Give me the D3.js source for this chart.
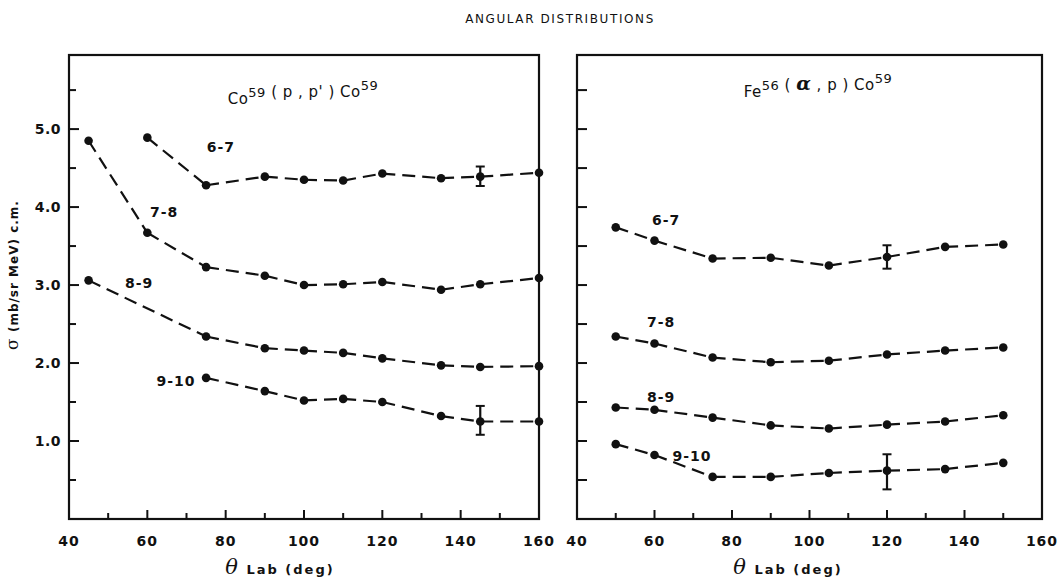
<!DOCTYPE html>
<html>
<head>
<meta charset="utf-8">
<script src="https://cdn.jsdelivr.net/npm/d3@7"></script>
<style>
  html, body { margin: 0; padding: 0; background: #fff; }
  svg { display: block; }
  text { font-family: "DejaVu Sans", "Liberation Sans", Arial, sans-serif; fill: #111; }
</style>
</head>
<body>
<svg id="chart" width="1060" height="584"></svg>
<script>
// ---------- DATA ----------
const chartTitle = "ANGULAR DISTRIBUTIONS";
const xTickValues = [40, 60, 80, 100, 120, 140, 160];
const yTickLabels = ["1.0", "2.0", "3.0", "4.0", "5.0"];
const seriesNames = ["6-7", "7-8", "8-9", "9-10"];

// Left panel: Co59 (p,p') Co59
const left67Angle = [60, 75, 90, 100, 110, 120, 135, 145, 160];
const left67Sigma = [4.89, 4.28, 4.39, 4.35, 4.34, 4.43, 4.37, 4.39, 4.44];
const left78Angle = [45, 60, 75, 90, 100, 110, 120, 135, 145, 160];
const left78Sigma = [4.85, 3.67, 3.23, 3.12, 3.00, 3.01, 3.04, 2.94, 3.01, 3.09];
const left89Angle = [45, 75, 90, 100, 110, 120, 135, 145, 160];
const left89Sigma = [3.06, 2.34, 2.19, 2.16, 2.13, 2.06, 1.97, 1.95, 1.96];
const left910Angle = [75, 90, 100, 110, 120, 135, 145, 160];
const left910Sigma = [1.81, 1.64, 1.52, 1.54, 1.50, 1.32, 1.25, 1.25];
// error bars
const leftErrAngle = [145, 145];
const leftErrLow = [4.27, 1.08];
const leftErrHigh = [4.52, 1.45];

// Right panel: Fe56 (alpha,p) Co59
const rightAngle = [50, 60, 75, 90, 105, 120, 135, 150];
const right67Sigma = [3.74, 3.57, 3.34, 3.35, 3.25, 3.36, 3.49, 3.52];
const right78Sigma = [2.34, 2.25, 2.07, 2.01, 2.03, 2.11, 2.16, 2.20];
const right89Sigma = [1.43, 1.40, 1.30, 1.20, 1.16, 1.21, 1.25, 1.33];
const right910Sigma = [0.96, 0.82, 0.54, 0.54, 0.59, 0.62, 0.64, 0.72];
const rightErrAngle = [120, 120];
const rightErrLow = [3.21, 0.38];
const rightErrHigh = [3.51, 0.83];

// label anchors in data units (angle, sigma)
const leftLabelAngle = [78.8, 64.3, 57.9, 67.3];
const leftLabelSigma = [4.77, 3.94, 3.03, 1.77];
const rightLabelAngle = [63.0, 61.7, 61.7, 69.7];
const rightLabelSigma = [3.83, 2.53, 1.56, 0.81];

// ---------- LAYOUT ----------
const svg = d3.select("#chart");
const yTop = 55, yBottom = 519;
const y = d3.scaleLinear().domain([0, 5.95]).range([yBottom, yTop]);

svg.append("text")
  .attr("x", 560).attr("y", 23)
  .attr("text-anchor", "middle")
  .style("font-size", "12px").style("letter-spacing", "1.6px")
  .text(chartTitle);

// y-axis title
svg.append("text")
  .attr("transform", "translate(18,275) rotate(-90)")
  .attr("text-anchor", "middle")
  .style("font-size", "12px").style("font-weight", "bold").style("letter-spacing", "1px")
  .call(t => {
    t.append("tspan").style("font-family", "DejaVu Serif, serif").style("font-size", "17px").style("font-weight", "normal").text("σ");
    t.append("tspan").text(" (mb/sr MeV)  c.m.");
  });

function makeSeries(angles, sigmas) {
  return angles.map((a, i) => ({ a: a, s: sigmas[i] }));
}

function drawPanel(opts) {
  const x = d3.scaleLinear().domain([40, 160]).range([opts.x0, opts.x1]);
  const g = svg.append("g");

  // frame
  g.append("rect")
    .attr("x", x(40)).attr("y", y(5.95))
    .attr("width", x(160) - x(40)).attr("height", y(0) - y(5.95))
    .attr("fill", "none").attr("stroke", "#111").attr("stroke-width", 2.2);

  // x ticks (inward)
  const xt = d3.range(50, 160, 10);
  g.selectAll(".xt").data(xt).enter().append("line")
    .attr("x1", d => x(d)).attr("x2", d => x(d))
    .attr("y1", y(0)).attr("y2", d => y(0) - (d % 20 === 0 ? 9 : 6))
    .attr("stroke", "#111").attr("stroke-width", 2);

  // x tick labels
  g.selectAll(".xl").data(xTickValues).enter().append("text")
    .attr("x", d => x(d)).attr("y", 546)
    .attr("text-anchor", "middle")
    .style("font-size", "14px").style("font-weight", "bold").style("letter-spacing", "1px")
    .text(d => d);

  // y ticks (inward)
  const yt = d3.range(0.5, 5.51, 0.5);
  g.selectAll(".yt").data(yt).enter().append("line")
    .attr("x1", x(40)).attr("x2", d => x(40) + (opts.labels ? (Math.abs(d - Math.round(d)) < 1e-6 ? 10 : 7) : 10))
    .attr("y1", d => y(d)).attr("y2", d => y(d))
    .attr("stroke", "#111").attr("stroke-width", 2);

  if (opts.labels) {
    g.selectAll(".yl").data(yTickLabels).enter().append("text")
      .attr("x", x(40) - 8).attr("y", d => y(+d) + 5)
      .attr("text-anchor", "end")
      .style("font-size", "14px").style("font-weight", "bold").style("letter-spacing", "0.5px")
      .text(d => d);
  }

  // x-axis title
  const xt2 = g.append("text").attr("x", opts.xTitleX).attr("y", 574)
    .attr("text-anchor", "middle")
    .style("font-size", "13px").style("font-weight", "bold").style("letter-spacing", "2px");
  xt2.append("tspan").style("font-family", "DejaVu Serif, serif").style("font-style", "italic").style("font-weight", "normal").style("font-size", "21px").text("θ");
  xt2.append("tspan").text("  Lab  (deg)");

  // reaction title
  const rt = g.append("text").attr("x", opts.titleX).attr("y", opts.titleY)
    .attr("text-anchor", "middle")
    .style("font-size", "15px").style("letter-spacing", "0.5px");
  opts.title.forEach(part => {
    if (part.sup) {
      rt.append("tspan").attr("dy", -7).style("font-size", "13px").text(part.t);
      rt.append("tspan").attr("dy", 7).text("");
    } else {
      const ts = rt.append("tspan").text(part.t);
      if (part.greek) ts.style("font-family", "DejaVu Serif, serif").style("font-style", "italic").style("font-size", "19px").style("font-weight", "bold");
    }
  });

  // series
  opts.series.forEach(ser => {
    const pairs = d3.pairs(ser);
    g.selectAll(null).data(pairs).enter().append("line")
      .attr("x1", d => x(d[0].a)).attr("y1", d => y(d[0].s))
      .attr("x2", d => x(d[1].a)).attr("y2", d => y(d[1].s))
      .attr("stroke", "#111").attr("stroke-width", 2.2)
      .attr("stroke-dasharray", "13,7");
    g.selectAll(null).data(ser).enter().append("circle")
      .attr("cx", d => x(d.a)).attr("cy", d => y(d.s)).attr("r", 4.3)
      .attr("fill", "#111");
  });

  // error bars
  opts.err.forEach(e => {
    g.append("line").attr("x1", x(e.a)).attr("x2", x(e.a)).attr("y1", y(e.lo)).attr("y2", y(e.hi))
      .attr("stroke", "#111").attr("stroke-width", 2.2);
    [e.lo, e.hi].forEach(v => g.append("line")
      .attr("x1", x(e.a) - 4.5).attr("x2", x(e.a) + 4.5).attr("y1", y(v)).attr("y2", y(v))
      .attr("stroke", "#111").attr("stroke-width", 2));
  });

  // series labels
  seriesNames.forEach((n, i) => {
    g.append("text")
      .attr("x", x(opts.labAngle[i])).attr("y", y(opts.labSigma[i]) + 5)
      .attr("text-anchor", "middle")
      .style("font-size", "14px").style("font-weight", "bold").style("letter-spacing", "1px")
      .text(n);
  });
}

drawPanel({
  x0: 69, x1: 539, labels: true, xTitleX: 280, titleX: 303, titleY: 104,
  title: [{ t: "Co" }, { t: "59", sup: true }, { t: " ( p , p' )  Co" }, { t: "59", sup: true }],
  series: [makeSeries(left67Angle, left67Sigma), makeSeries(left78Angle, left78Sigma),
           makeSeries(left89Angle, left89Sigma), makeSeries(left910Angle, left910Sigma)],
  err: leftErrAngle.map((a, i) => ({ a: a, lo: leftErrLow[i], hi: leftErrHigh[i] })),
  labAngle: leftLabelAngle, labSigma: leftLabelSigma
});

drawPanel({
  x0: 577, x1: 1042, labels: false, xTitleX: 788, titleX: 818, titleY: 97,
  title: [{ t: "Fe" }, { t: "56", sup: true }, { t: " ( " }, { t: "α", greek: true }, { t: " , p )  Co" }, { t: "59", sup: true }],
  series: [makeSeries(rightAngle, right67Sigma), makeSeries(rightAngle, right78Sigma),
           makeSeries(rightAngle, right89Sigma), makeSeries(rightAngle, right910Sigma)],
  err: rightErrAngle.map((a, i) => ({ a: a, lo: rightErrLow[i], hi: rightErrHigh[i] })),
  labAngle: rightLabelAngle, labSigma: rightLabelSigma
});
</script>
</body>
</html>
